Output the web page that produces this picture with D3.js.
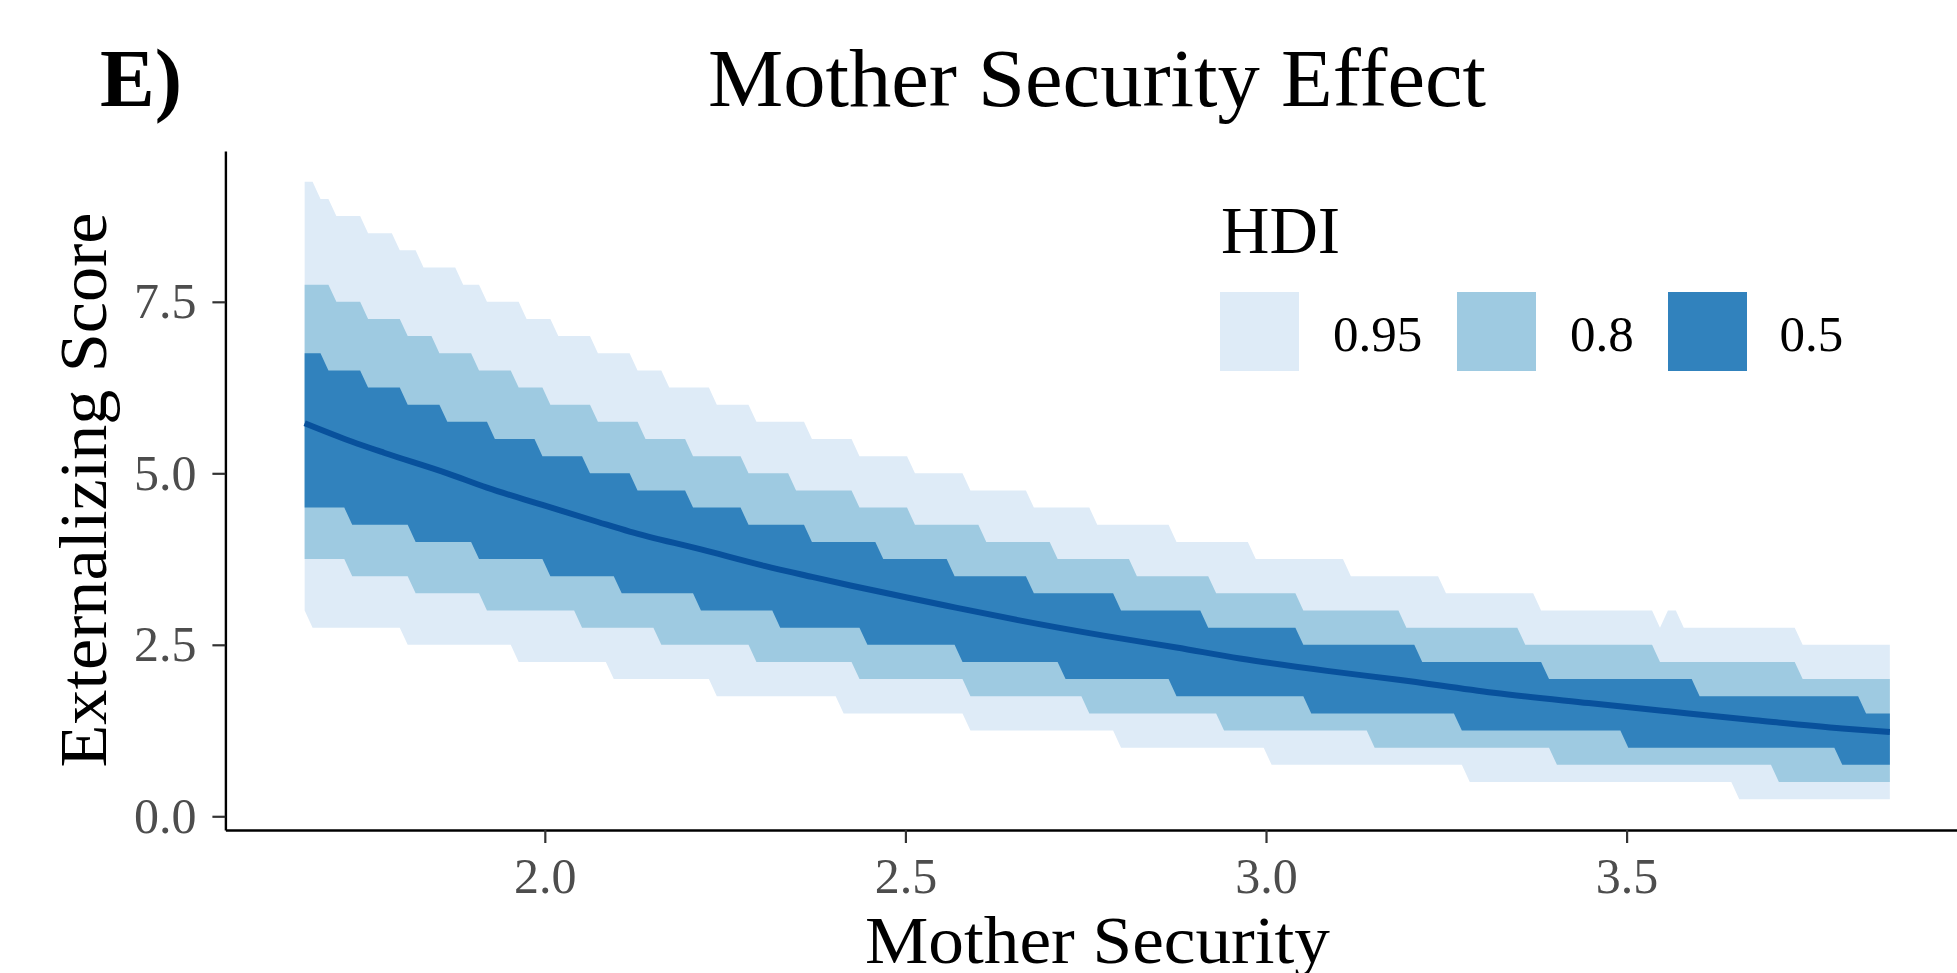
<!DOCTYPE html>
<html>
<head>
<meta charset="utf-8">
<script src="https://cdn.jsdelivr.net/npm/d3@7"></script>
<style>
  html, body { margin: 0; padding: 0; background: #ffffff; }
  svg { display: block; }
  text { font-family: "Liberation Serif", "Times New Roman", serif; }
</style>
</head>
<body>
<svg id="chart" width="1957" height="973"></svg>
<script>
// Prediction grid over mother security (201 evenly spaced points)
const gridStart = 1.667;
const gridEnd = 3.865;
const gridCount = 201;

// Interval bounds as runs: [first grid index, value held from that index on]
const upper95 = [[0,9.25],[2,9.0],[4,8.75],[8,8.5],[12,8.25],[15,8.0],[20,7.75],[23,7.5],[28,7.25],[32,7.0],[37,6.75],[42,6.5],[46,6.25],[52,6.0],[57,5.75],[64,5.5],[70,5.25],[77,5.0],[84,4.75],[92,4.5],[100,4.25],[110,4.0],[120,3.75],[132,3.5],[144,3.25],[156,3.0],[171,2.75],[172,3.0],[174,2.75],[189,2.5]];
const lower95 = [[0,3.0],[1,2.75],[13,2.5],[27,2.25],[39,2.0],[52,1.75],[68,1.5],[84,1.25],[103,1.0],[122,0.75],[147,0.5],[181,0.25]];
const upper80 = [[0,7.75],[4,7.5],[8,7.25],[13,7.0],[17,6.75],[22,6.5],[27,6.25],[31,6.0],[37,5.75],[43,5.5],[49,5.25],[56,5.0],[62,4.75],[70,4.5],[77,4.25],[86,4.0],[95,3.75],[105,3.5],[115,3.25],[126,3.0],[139,2.75],[154,2.5],[171,2.25],[189,2.0]];
const lower80 = [[0,3.75],[6,3.5],[14,3.25],[23,3.0],[35,2.75],[45,2.5],[57,2.25],[70,2.0],[84,1.75],[99,1.5],[116,1.25],[135,1.0],[158,0.75],[186,0.5]];
const upper50 = [[0,6.75],[3,6.5],[8,6.25],[13,6.0],[18,5.75],[24,5.5],[30,5.25],[36,5.0],[42,4.75],[49,4.5],[56,4.25],[64,4.0],[73,3.75],[82,3.5],[92,3.25],[103,3.0],[114,2.75],[126,2.5],[141,2.25],[157,2.0],[176,1.75],[197,1.5]];
const lower50 = [[0,4.5],[6,4.25],[14,4.0],[22,3.75],[31,3.5],[40,3.25],[50,3.0],[60,2.75],[71,2.5],[83,2.25],[96,2.0],[110,1.75],[127,1.5],[146,1.25],[167,1.0],[194,0.75]];

// Posterior median: [grid index, externalizing score]
const medianLine = [[0,5.73],[6,5.46],[10,5.30],[18,5.00],[23,4.79],[30,4.54],[37,4.29],[41,4.15],[50,3.89],[58,3.65],[64,3.49],[69,3.36],[76,3.19],[81,3.07],[90,2.86],[101,2.63],[110,2.46],[118,2.30],[129,2.12],[138,1.99],[150,1.80],[162,1.65],[172,1.53],[183,1.40],[194,1.28],[200,1.23]];

const hdiLevels = ["0.95", "0.8", "0.5"];
const hdiColors = ["#DEEBF7", "#9ECAE1", "#3182BD"];
const lineColor = "#08519C";

const xTicks = [2.0, 2.5, 3.0, 3.5];
const yTicks = [0.0, 2.5, 5.0, 7.5];

const titleText = "Mother Security Effect";
const panelTag = "E)";
const xLabel = "Mother Security";
const yLabel = "Externalizing Score";
const legendTitle = "HDI";

// ---------------------------------------------------------------
const gridX = d3.range(gridCount).map(i => gridStart + i * (gridEnd - gridStart) / (gridCount - 1));

function expandRuns(runs) {
  const out = [];
  let r = 0;
  for (let i = 0; i < gridCount; i++) {
    while (r + 1 < runs.length && runs[r + 1][0] <= i) r++;
    out.push(runs[r][1]);
  }
  return out;
}

const bands = [
  { lo: expandRuns(lower95), hi: expandRuns(upper95), color: hdiColors[0] },
  { lo: expandRuns(lower80), hi: expandRuns(upper80), color: hdiColors[1] },
  { lo: expandRuns(lower50), hi: expandRuns(upper50), color: hdiColors[2] }
];

// Scales with 5% padding on each side of the data range
const allY = bands.flatMap(b => b.lo.concat(b.hi));
const yMin = d3.min(allY), yMax = d3.max(allY);
const xPad = (gridEnd - gridStart) * 0.05;
const yPad = (yMax - yMin) * 0.05;

const panel = { left: 225.4, right: 1969.1, top: 150.9, bottom: 830 };

const x = d3.scaleLinear().domain([gridStart - xPad, gridEnd + xPad]).range([panel.left, panel.right]);
const y = d3.scaleLinear().domain([yMin - yPad, yMax + yPad]).range([panel.bottom, panel.top]);

const svg = d3.select("#chart");
svg.append("rect").attr("width", 1957).attr("height", 973).attr("fill", "#ffffff");

// Interval ribbons
const area = d3.area()
  .x(d => x(d.x))
  .y0(d => y(d.lo))
  .y1(d => y(d.hi))
  .curve(d3.curveLinear);

bands.forEach(b => {
  const rows = gridX.map((gx, i) => ({ x: gx, lo: b.lo[i], hi: b.hi[i] }));
  svg.append("path")
    .datum(rows)
    .attr("d", area)
    .attr("fill", b.color)
    .attr("stroke", "none");
});

// Median line
const line = d3.line()
  .x(d => x(gridX[d[0]]))
  .y(d => y(d[1]))
  .curve(d3.curveMonotoneX);

svg.append("path")
  .datum(medianLine)
  .attr("d", line)
  .attr("fill", "none")
  .attr("stroke", lineColor)
  .attr("stroke-width", 6);

// Axes
const xAxis = d3.axisBottom(x).tickValues(xTicks).tickFormat(d3.format(".1f"))
  .tickSize(13).tickSizeOuter(0).tickPadding(14);
const yAxis = d3.axisLeft(y).tickValues(yTicks).tickFormat(d3.format(".1f"))
  .tickSize(13).tickSizeOuter(0).tickPadding(16);

function styleAxis(g) {
  g.select(".domain").attr("stroke", "#000000").attr("stroke-width", 2.4);
  g.selectAll(".tick line").attr("stroke", "#333333").attr("stroke-width", 2.2);
  g.selectAll(".tick text")
    .attr("fill", "#4D4D4D")
    .style("font-size", "50px")
    .style("font-family", "'Liberation Serif', 'Times New Roman', serif");
}

svg.append("g").attr("transform", `translate(0,${panel.bottom})`).call(xAxis).call(styleAxis);
svg.append("g").attr("transform", `translate(${panel.left},0)`).call(yAxis).call(styleAxis);

// Titles
function fitText(sel, width) {
  sel.attr("textLength", width).attr("lengthAdjust", "spacingAndGlyphs");
}

svg.append("text")
  .attr("x", 1097).attr("y", 106)
  .attr("text-anchor", "middle")
  .style("font-size", "82px")
  .attr("fill", "#000")
  .text(titleText)
  .call(fitText, 778);

svg.append("text")
  .attr("x", 100).attr("y", 106)
  .style("font-size", "82px")
  .style("font-weight", "bold")
  .attr("fill", "#000")
  .text(panelTag);

svg.append("text")
  .attr("x", 1097.5).attr("y", 962.5)
  .attr("text-anchor", "middle")
  .style("font-size", "67px")
  .attr("fill", "#000")
  .text(xLabel)
  .call(fitText, 465);

svg.append("text")
  .attr("transform", "translate(106,490) rotate(-90)")
  .attr("text-anchor", "middle")
  .style("font-size", "67px")
  .attr("fill", "#000")
  .text(yLabel)
  .call(fitText, 555);

// Legend
const legend = svg.append("g");
legend.append("text")
  .attr("x", 1221).attr("y", 253)
  .style("font-size", "67px")
  .attr("fill", "#000")
  .text(legendTitle);

const keyX = [1220, 1457, 1668];
const labelX = [1333, 1570, 1779.5];
hdiLevels.forEach((lvl, i) => {
  legend.append("rect")
    .attr("x", keyX[i]).attr("y", 292)
    .attr("width", 79).attr("height", 79)
    .attr("fill", hdiColors[i]);
  legend.append("text")
    .attr("x", labelX[i]).attr("y", 350.5)
    .style("font-size", "51px")
    .attr("fill", "#000")
    .text(lvl);
});
</script>
</body>
</html>
